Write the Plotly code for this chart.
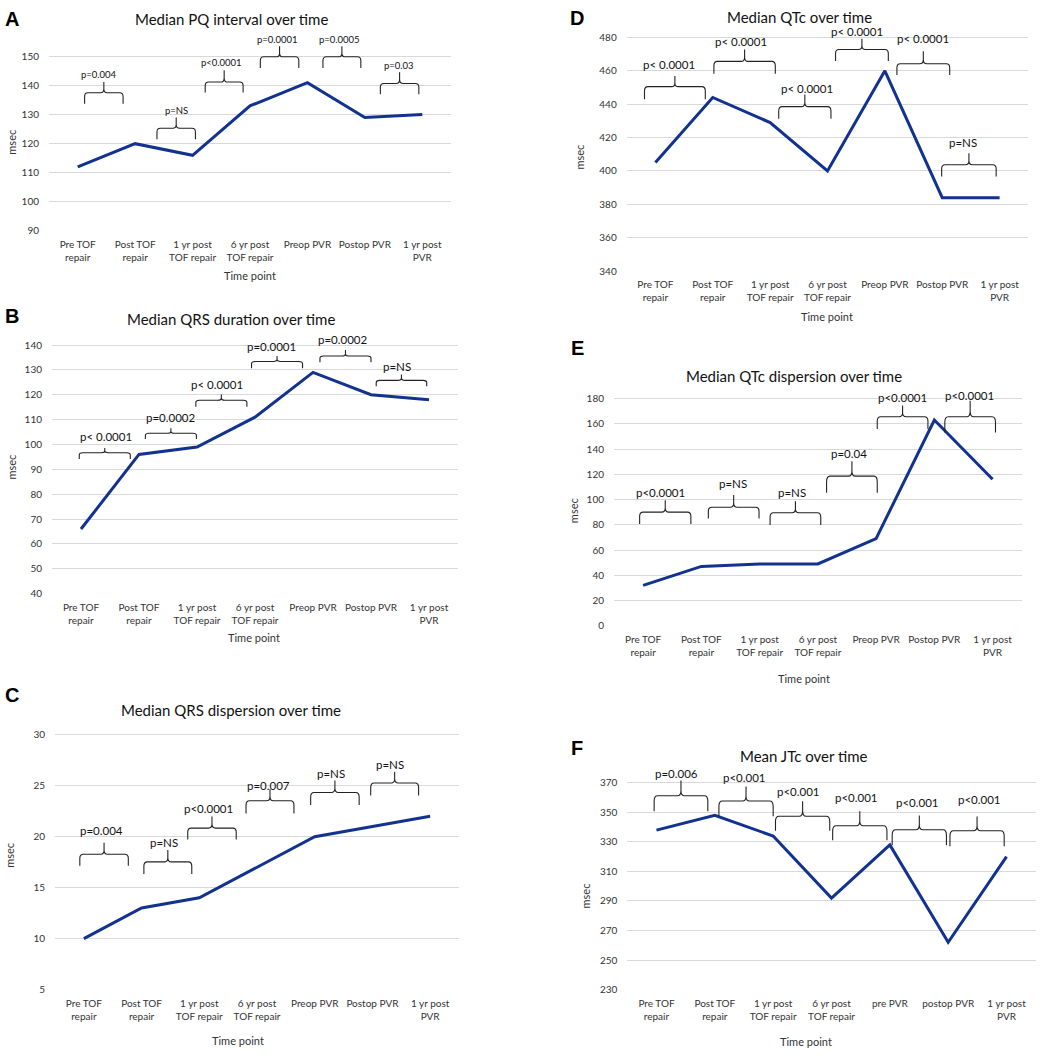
import plotly.graph_objects as go

# ---------------- data ----------------
categories = ["Pre TOF<br>repair", "Post TOF<br>repair", "1 yr post<br>TOF repair",
              "6 yr post<br>TOF repair", "Preop PVR", "Postop PVR", "1 yr post<br>PVR"]
categories_f = ["Pre TOF<br>repair", "Post TOF<br>repair", "1 yr post<br>TOF repair",
                "6 yr post<br>TOF repair", "pre PVR", "postop PVR", "1 yr post<br>PVR"]

pq_interval = [112, 120, 116, 133, 141, 129, 130]
qrs_duration = [66, 96, 99, 111, 129, 120, 118]
qrs_dispersion = [10, 13, 14, 17, 20, 21, 22]
qtc_values = [405, 444, 429, 400, 460, 384, 384]
qtc_dispersion = [32, 47, 49, 49, 69, 163, 116]
jtc_values = [338, 348, 334, 292, 328, 262, 320]

pq_p = ["p=0.004", "p=NS", "p<0.0001", "p=0.0001", "p=0.0005", "p=0.03"]
qrs_dur_p = ["p< 0.0001", "p=0.0002", "p< 0.0001", "p=0.0001", "p=0.0002", "p=NS"]
qrs_disp_p = ["p=0.004", "p=NS", "p<0.0001", "p=0.007", "p=NS", "p=NS"]
qtc_p = ["p< 0.0001", "p< 0.0001", "p< 0.0001", "p< 0.0001", "p< 0.0001", "p=NS"]
qtc_disp_p = ["p<0.0001", "p=NS", "p=NS", "p=0.04", "p<0.0001", "p<0.0001"]
jtc_p = ["p=0.006", "p<0.001", "p<0.001", "p<0.001", "p<0.001", "p<0.001"]

# bracket geometry (x0, x1, y_bottom, y_horizontal, y_peak, x_text, y_text) in axis units
br_a = [(0.12, 0.79, 133.7, 137.5, 141.2, 0.37, 143.8), (1.38, 2.05, 121.5, 125.3, 129.0, 1.72, 131.5),
        (2.22, 2.88, 137.6, 141.2, 145.3, 2.51, 147.9), (3.18, 3.85, 146.0, 149.9, 153.5, 3.48, 156.0),
        (4.27, 4.93, 146.0, 149.9, 153.5, 4.56, 156.0), (5.27, 5.94, 137.0, 140.7, 144.6, 5.6, 146.9)]
br_b = [(-0.03, 0.85, 94.2, 96.7, 98.6, 0.43, 103.1), (1.11, 1.99, 102.2, 104.5, 106.5, 1.55, 110.7),
        (1.98, 2.86, 115.2, 117.8, 120.1, 2.35, 124.3), (2.94, 3.82, 130.7, 133.4, 135.6, 3.29, 139.6),
        (4.12, 5.0, 133.1, 135.6, 138.0, 4.52, 142.1), (5.09, 5.96, 123.4, 125.8, 128.2, 5.44, 131.4)]
br_c = [(-0.07, 0.77, 17.14, 18.28, 19.41, 0.31, 20.64), (1.04, 1.87, 16.33, 17.53, 18.70, 1.38, 19.41),
        (1.80, 2.64, 19.73, 20.84, 21.97, 2.16, 22.75), (2.81, 3.64, 22.26, 23.52, 24.66, 3.2, 24.98),
        (3.93, 4.77, 23.10, 24.33, 25.50, 4.28, 26.15), (4.97, 5.80, 24.04, 25.27, 26.37, 5.31, 27.09)]
br_d = [(-0.19, 0.87, 443.0, 450.5, 456.9, 0.24, 464.0), (1.02, 2.09, 458.2, 465.6, 472.7, 1.49, 477.4),
        (2.15, 3.06, 431.2, 438.5, 445.8, 2.64, 449.4), (3.14, 4.06, 465.8, 472.7, 479.2, 3.52, 483.4),
        (4.21, 5.13, 457.5, 464.2, 471.7, 4.67, 479.4), (4.99, 5.94, 396.7, 403.7, 410.6, 5.36, 416.9)]
br_e = [(-0.06, 0.82, 80.6, 90.0, 99.4, 0.3, 105.4), (1.12, 1.99, 85.0, 93.9, 103.6, 1.54, 112.8),
        (2.18, 3.05, 79.8, 89.5, 98.6, 2.56, 105.4), (3.15, 4.02, 105.4, 118.5, 130.3, 3.54, 136.8),
        (4.02, 4.89, 155.9, 165.6, 174.5, 4.46, 180.5), (5.18, 6.05, 153.1, 165.6, 178.2, 5.61, 182.6)]
br_f = [(-0.04, 0.88, 350.8, 361.3, 371.6, 0.34, 376.5), (1.07, 2.0, 347.4, 357.7, 367.5, 1.51, 373.4),
        (2.04, 2.97, 337.6, 347.4, 357.5, 2.44, 364.0), (3.02, 3.95, 331.1, 340.9, 350.8, 3.43, 359.9),
        (4.04, 4.97, 327.7, 338.2, 347.9, 4.48, 356.4), (5.03, 5.96, 327.1, 337.6, 347.2, 5.54, 359.0)]

# ---------------- layout spec (pixels) ----------------
W, H = 1042, 1056
FONT = "Lato"
LINE_COLOR = "#12328f"
GRID = "#d9d9d9"
TXT = "#333333"

panels = [
    dict(letter="A", title="Median PQ interval over time", vals=pq_interval, pv=pq_p, br=br_a, cats=categories,
         xpx=(49, 451), ypx=(53, 229), yr=(90, 150), top=160, dt=10, psize=9.5,
         title_xy=(231, 15), letter_xy=(12, 15), xt_xy=(250, 274), yt_xy=(12, 140)),
    dict(letter="B", title="Median QRS duration over time", vals=qrs_duration, pv=qrs_dur_p, br=br_b, cats=categories,
         xpx=(52, 458), ypx=(344.3, 595.3), yr=(40, 140), top=145, dt=10, psize=11.5,
         title_xy=(231, 318), letter_xy=(12, 315), xt_xy=(254, 640), yt_xy=(12, 468)),
    dict(letter="C", title="Median QRS dispersion over time", vals=qrs_dispersion, pv=qrs_disp_p, br=br_c, cats=categories,
         xpx=(55, 459), ypx=(737.7, 995), yr=(5, 30), top=30.2, dt=5, psize=11.5,
         title_xy=(231, 713), letter_xy=(12, 698), xt_xy=(238, 1046), yt_xy=(10, 860)),
    dict(letter="D", title="Median QTc over time", vals=qtc_values, pv=qtc_p, br=br_d, cats=categories,
         xpx=(626.7, 1028.3), ypx=(33.7, 269.7), yr=(340, 480), top=488, dt=20, psize=11.5,
         title_xy=(799, 13), letter_xy=(577, 14), xt_xy=(827, 315), yt_xy=(580, 155)),
    dict(letter="E", title="Median QTc dispersion over time", vals=qtc_dispersion, pv=qtc_disp_p, br=br_e, cats=categories,
         xpx=(614, 1021.7), ypx=(398.3, 627.7), yr=(0, 180), top=187, dt=20, psize=11.5,
         title_xy=(794, 376), letter_xy=(577, 347), xt_xy=(804, 681), yt_xy=(573, 512)),
    dict(letter="F", title="Mean JTc over time", vals=jtc_values, pv=jtc_p, br=br_f, cats=categories_f,
         xpx=(627.3, 1035.7), ypx=(786.3, 995), yr=(230, 370), top=381, dt=20, psize=11.5,
         title_xy=(804, 759), letter_xy=(577, 751), xt_xy=(806, 1047), yt_xy=(585, 901)),
]

fig = go.Figure()
layout = dict(width=W, height=H, margin=dict(l=0, r=0, t=0, b=0),
              paper_bgcolor="white", plot_bgcolor="white", showlegend=False,
              font=dict(family=FONT, color=TXT))
shapes = []
annotations = []


def px2x(px):
    return px / W


def px2y(py):
    return 1 - py / H


for i, p in enumerate(panels, start=1):
    xa = "x" if i == 1 else f"x{i}"
    ya = "y" if i == 1 else f"y{i}"
    scale = (p["ypx"][1] - p["ypx"][0]) / (p["yr"][1] - p["yr"][0])
    top_px = p["ypx"][0] - (p["top"] - p["yr"][1]) * scale
    layout["xaxis" if i == 1 else f"xaxis{i}"] = dict(
        domain=[px2x(p["xpx"][0]), px2x(p["xpx"][1])], anchor=ya, range=[-0.5, 6.5],
        tickmode="array", tickvals=list(range(len(p["cats"]))), ticktext=p["cats"],
        showgrid=False, zeroline=False, showline=False, ticks="outside", ticklen=4,
        tickcolor="rgba(0,0,0,0)", tickfont=dict(family=FONT, size=10, color=TXT), fixedrange=True)
    layout["yaxis" if i == 1 else f"yaxis{i}"] = dict(
        domain=[px2y(p["ypx"][1]), px2y(top_px)], anchor=xa, range=[p["yr"][0], p["top"]],
        tickmode="array", tickvals=list(range(p["yr"][0], p["yr"][1] + 1, p["dt"])),
        showgrid=True, gridcolor=GRID, gridwidth=1, zeroline=False, showline=False,
        ticks="outside", ticklen=7, tickcolor="rgba(0,0,0,0)",
        tickfont=dict(family=FONT, size=10, color=TXT), fixedrange=True)

    fig.add_trace(go.Scatter(x=list(range(len(p["vals"]))), y=p["vals"], mode="lines",
                             line=dict(color=LINE_COLOR, width=3), xaxis=xa, yaxis=ya,
                             hoverinfo="skip"))

    for (x0, x1, yb, yh, yp, xt, yt), label in zip(p["br"], p["pv"]):
        xm = (x0 + x1) / 2
        c = 0.06
        yc = yh + 0.35 * (yb - yh)
        ys = yh + 0.35 * (yp - yh)
        path = (f"M {x0},{yb} L {x0},{yc} Q {x0},{yh} {x0 + c},{yh} L {xm - c},{yh} "
                f"Q {xm},{yh} {xm},{ys} L {xm},{yp} L {xm},{ys} Q {xm},{yh} {xm + c},{yh} "
                f"L {x1 - c},{yh} Q {x1},{yh} {x1},{yc} L {x1},{yb}")
        shapes.append(dict(type="path", path=path, xref=xa, yref=ya,
                           line=dict(color="#222222", width=1.1), layer="above"))
        annotations.append(dict(x=xt, y=yt, xref=xa, yref=ya, text=label, showarrow=False,
                                xanchor="center", yanchor="middle",
                                font=dict(family=FONT, size=p["psize"], color="#111111")))

    # panel title, letter, axis titles
    tx, ty = p["title_xy"]
    annotations.append(dict(x=px2x(tx), y=px2y(ty), xref="paper", yref="paper", text=p["title"],
                            showarrow=False, xanchor="center", yanchor="middle",
                            font=dict(family=FONT, size=15, color="#111111")))
    lx, ly = p["letter_xy"]
    annotations.append(dict(x=px2x(lx), y=px2y(ly), xref="paper", yref="paper", text=f"<b>{p['letter']}</b>",
                            showarrow=False, xanchor="center", yanchor="middle",
                            font=dict(family="Liberation Sans", size=20, color="black")))
    ax, ay = p["xt_xy"]
    annotations.append(dict(x=px2x(ax), y=px2y(ay), xref="paper", yref="paper", text="Time point",
                            showarrow=False, xanchor="center", yanchor="middle",
                            font=dict(family=FONT, size=11, color=TXT)))
    mx, my = p["yt_xy"]
    annotations.append(dict(x=px2x(mx), y=px2y(my), xref="paper", yref="paper", text="msec",
                            showarrow=False, xanchor="center", yanchor="middle", textangle=-90,
                            font=dict(family=FONT, size=11, color=TXT)))

layout["shapes"] = shapes
layout["annotations"] = annotations
fig.update_layout(**layout)

fig.write_html("out.html", post_script="document.body.style.margin='0';",
               config={"displayModeBar": False})
